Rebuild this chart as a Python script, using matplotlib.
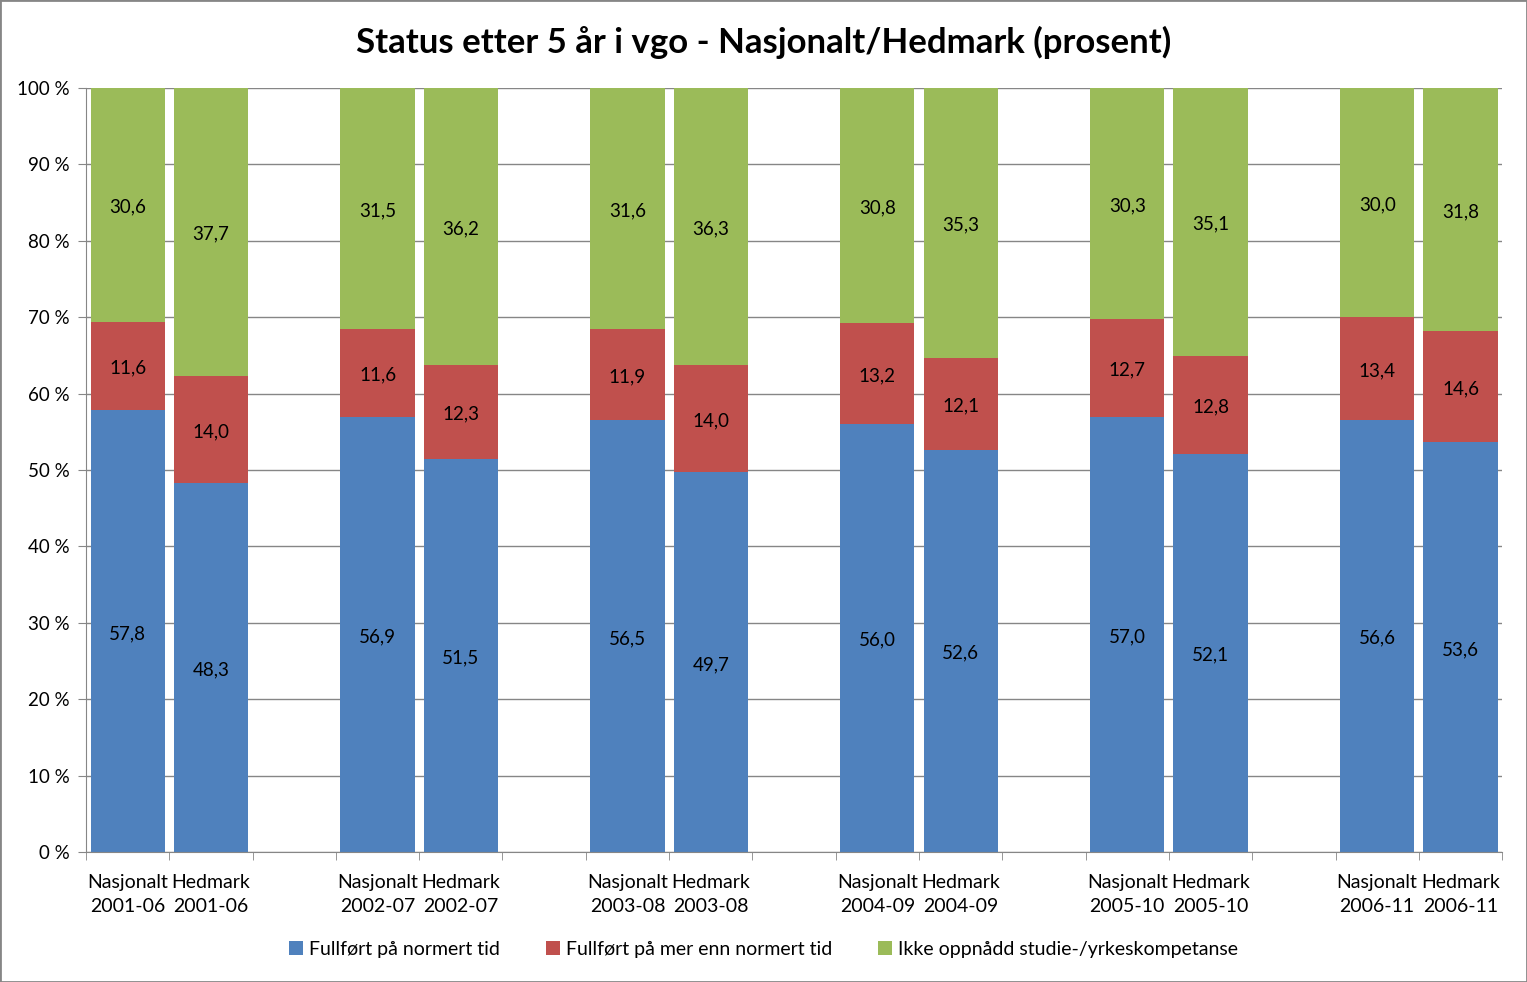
import numpy as np
import matplotlib.pyplot as plt
from matplotlib.patches import Rectangle

plt.rcParams['font.family'] = ['Lato', 'DejaVu Sans']

groups = ['2001-06', '2002-07', '2003-08', '2004-09', '2005-10', '2006-11']
units = ['Nasjonalt', 'Hedmark']
normert = [57.8, 48.3, 56.9, 51.5, 56.5, 49.7, 56.0, 52.6, 57.0, 52.1, 56.6, 53.6]
mer_enn = [11.6, 14.0, 11.6, 12.3, 11.9, 14.0, 13.2, 12.1, 12.7, 12.8, 13.4, 14.6]
ikke = [30.6, 37.7, 31.5, 36.2, 31.6, 36.3, 30.8, 35.3, 30.3, 35.1, 30.0, 31.8]
series_names = ['Fullført på normert tid', 'Fullført på mer enn normert tid',
                'Ikke oppnådd studie-/yrkeskompetanse']
colors = ['#4F81BD', '#C0504D', '#9BBB59']

# category positions: two bars per group, one empty slot between groups
pos = []
labels = []
for g, yr in enumerate(groups):
    for u, name in enumerate(units):
        pos.append(g * 3 + u)
        labels.append(name + '\n' + yr)
pos = np.array(pos)

fig = plt.figure(figsize=(15.27, 9.82), dpi=100)
fig.patches.append(Rectangle((0, 0), 1, 1, transform=fig.transFigure,
                             fill=False, edgecolor='#868686', lw=2))
ax = fig.add_axes([0.0563, 0.1324, 0.9274, 0.778])

width = 0.89
bottoms = np.zeros(len(pos))
for vals, col, name in zip([normert, mer_enn, ikke], colors, series_names):
    vals = np.array(vals)
    ax.bar(pos, vals, width, bottom=bottoms, color=col, label=name, zorder=2)
    for x, b, v in zip(pos, bottoms, vals):
        ax.text(x, b + v / 2 - 0.3, ('%.1f' % v).replace('.', ','), ha='center',
                va='center', fontsize=13.5, color='black', zorder=3)
    bottoms = bottoms + vals

ax.set_xlim(-0.5, 16.5)
ax.set_ylim(0, 100)
ax.set_yticks(np.arange(0, 101, 10))
ax.set_yticklabels(['%d %%' % v for v in range(0, 101, 10)], fontsize=13.5)
ax.yaxis.grid(True, color='#868686', lw=1, zorder=0)
ax.set_xticks(pos)
ax.set_xticklabels(labels, fontsize=14, linespacing=1.5)
ax.set_xticks(np.arange(-0.5, 17, 1), minor=True)
ax.tick_params(axis='x', which='major', length=0, pad=16)
ax.tick_params(axis='x', which='minor', length=6, color='#868686')
ax.tick_params(axis='y', length=6, color='#868686', pad=6)
for s in ['top', 'right']:
    ax.spines[s].set_visible(False)
for s in ['left', 'bottom']:
    ax.spines[s].set_color('#868686')

fig.text(0.5, 0.957, 'Status etter 5 år i vgo - Nasjonalt/Hedmark (prosent)',
         ha='center', va='center', fontsize=25, fontweight='bold')
fig.legend(loc='center', bbox_to_anchor=(0.5, 0.033), ncol=3, frameon=False,
           fontsize=14, handlelength=0.7, handleheight=0.7, columnspacing=2.4,
           handletextpad=0.3)

fig.savefig('out.png', dpi=100)
